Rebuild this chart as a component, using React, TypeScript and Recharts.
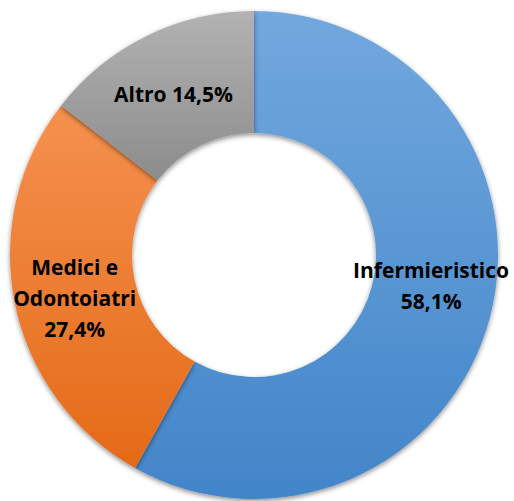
import { PieChart, Pie, Cell } from "recharts";

const categories = ["Infermieristico", "Medici e Odontoiatri", "Altro"];
const shares = [58.1, 27.4, 14.5];
const labelLines = [["Infermieristico", "58,1%"], ["Medici e", "Odontoiatri", "27,4%"], ["Altro 14,5%"]];

const gradients = [
  { id: "gBlue", top: "#72a8de", bottom: "#4285c9" },
  { id: "gOrange", top: "#f5914f", bottom: "#e46a17" },
  { id: "gGray", top: "#b2b2b2", bottom: "#8c8c8c" },
];

// small hand tweaks so labels sit where the original put them
const nudgeY = [-16, 6, 3];

const data = categories.map((name, i) => ({ name, value: shares[i] }));

const RADIAN = Math.PI / 180;

function renderLabel(props: any) {
  const { cx, cy, midAngle, innerRadius, outerRadius, index } = props;
  const r = (innerRadius + outerRadius) / 2;
  const x = cx + r * Math.cos(-midAngle * RADIAN);
  const y = cy + r * Math.sin(-midAngle * RADIAN) + nudgeY[index];
  const lines = labelLines[index];
  const lh = 31;
  const y0 = y - ((lines.length - 1) * lh) / 2;
  return (
    <text
      x={x}
      y={y0}
      textAnchor="middle"
      dominantBaseline="central"
      fill="#000"
      fontFamily="'Open Sans', Lato, sans-serif"
      fontWeight={700}
      fontSize={21}
    >
      {lines.map((t, k) => (
        <tspan key={k} x={x} y={y0 + k * lh}>
          {t}
        </tspan>
      ))}
    </text>
  );
}

export default function App() {
  return (
    <div style={{ position: "absolute", left: 0, top: 0, background: "#fff" }}>
      <PieChart width={514} height={501} margin={{ top: 0, right: 0, bottom: 0, left: 0 }}>
        <defs>
          {gradients.map((g) => (
            <linearGradient key={g.id} id={g.id} x1="0" y1="0" x2="0" y2="1">
              <stop offset="0%" stopColor={g.top} />
              <stop offset="100%" stopColor={g.bottom} />
            </linearGradient>
          ))}
          <filter id="shadow" x="-10%" y="-10%" width="120%" height="120%">
            <feDropShadow dx="0" dy="2" stdDeviation="2.5" floodColor="#000" floodOpacity="0.45" />
          </filter>
        </defs>
        <Pie
          data={data}
          dataKey="value"
          nameKey="name"
          cx={254}
          cy={255}
          innerRadius={122}
          outerRadius={244}
          startAngle={90}
          endAngle={-270}
          stroke="none"
          label={renderLabel}
          labelLine={false}
          isAnimationActive={false}
        >
          {data.map((d, i) => (
            <Cell key={d.name} fill={`url(#${gradients[i].id})`} filter="url(#shadow)" />
          ))}
        </Pie>
      </PieChart>
    </div>
  );
}
